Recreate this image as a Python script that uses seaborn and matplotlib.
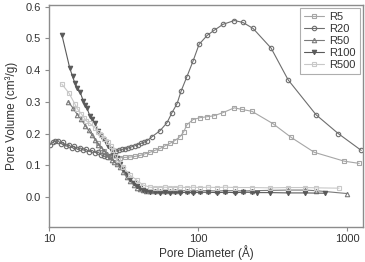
import numpy as np
import pandas as pd
import matplotlib
matplotlib.use("Agg")
import matplotlib.pyplot as plt
import seaborn as sns

# pore diameter (A) and pore volume (cm3/g)
r5_d = [21.5, 23.5, 25.7, 27.7, 30.0, 32.4, 35.0, 37.8, 40.8, 44.0, 47.6, 51.4, 55.6,
        60.0, 64.8, 70.0, 75.6, 80.0, 84.3, 92.5, 103, 115, 128, 147, 175, 197, 230,
        318, 421, 601, 955, 1205]
r5_v = [0.170, 0.145, 0.125, 0.124, 0.124, 0.125, 0.126, 0.128, 0.131, 0.136, 0.141,
        0.147, 0.153, 0.161, 0.169, 0.178, 0.190, 0.205, 0.228, 0.244, 0.250, 0.253,
        0.256, 0.266, 0.281, 0.276, 0.270, 0.231, 0.188, 0.141, 0.113, 0.106]

r20_d = [10.2, 10.6, 11.0, 11.5, 12.0, 12.5, 13.0, 13.6, 14.2, 14.8, 15.5, 16.2, 17.0,
         17.8, 18.6, 19.5, 20.4, 21.4, 22.4, 23.4, 24.5, 25.7, 26.9, 28.2, 29.5, 30.9,
         32.4, 34.0, 35.7, 37.5, 39.4, 41.4, 43.5, 45.7, 49.1, 55.6, 61.9, 66.9, 72.3,
         77.0, 84.0, 92.5, 101.6, 115, 128, 147, 175, 200, 234, 309, 402, 619, 871, 1242]
r20_v = [0.165, 0.172, 0.176, 0.178, 0.168, 0.172, 0.160, 0.165, 0.156, 0.160, 0.150,
         0.155, 0.148, 0.150, 0.143, 0.147, 0.140, 0.142, 0.133, 0.129, 0.126, 0.130,
         0.138, 0.145, 0.148, 0.150, 0.152, 0.155, 0.158, 0.161, 0.165, 0.169, 0.173,
         0.178, 0.190, 0.209, 0.234, 0.266, 0.294, 0.334, 0.378, 0.428, 0.481, 0.509,
         0.525, 0.544, 0.556, 0.550, 0.531, 0.469, 0.369, 0.259, 0.200, 0.147]

r50_d = [13.5, 14.5, 15.5, 16.5, 17.5, 18.5, 19.5, 20.5, 21.5, 22.5, 23.5, 24.5, 25.5,
         26.5, 27.5, 28.5, 30.0, 31.4, 33.2, 35.0, 37.0, 38.9, 40.8, 42.7, 45.0, 47.6,
         51.7, 55.6, 60.0, 64.8, 70.0, 76.0, 84.0, 92.5, 103, 117, 134, 152, 177, 200,
         230, 306, 402, 524, 620, 1000]
r50_v = [0.300, 0.280, 0.260, 0.245, 0.225, 0.210, 0.195, 0.180, 0.165, 0.155, 0.145,
         0.135, 0.125, 0.118, 0.110, 0.104, 0.094, 0.080, 0.062, 0.050, 0.038, 0.030,
         0.025, 0.022, 0.020, 0.020, 0.019, 0.020, 0.019, 0.020, 0.019, 0.020, 0.020,
         0.019, 0.020, 0.020, 0.019, 0.020, 0.020, 0.019, 0.020, 0.021, 0.022, 0.022,
         0.020, 0.011]

r100_d = [12.2, 13.8, 14.4, 14.9, 15.5, 16.2, 17.0, 17.5, 18.0, 18.8, 19.5, 20.3, 21.3,
          22.1, 23.0, 24.0, 24.9, 25.9, 26.9, 27.8, 28.6, 30.0, 31.4, 33.2, 35.0, 37.0,
          38.9, 40.8, 42.7, 45.0, 47.6, 51.7, 55.6, 60.0, 64.8, 70.0, 76.0, 84.0, 92.5,
          103, 117, 134, 152, 177, 200, 230, 250, 306, 402, 524, 711]
r100_v = [0.512, 0.406, 0.380, 0.360, 0.345, 0.330, 0.303, 0.290, 0.280, 0.256, 0.245,
          0.234, 0.209, 0.196, 0.184, 0.172, 0.162, 0.150, 0.140, 0.130, 0.122, 0.105,
          0.088, 0.072, 0.058, 0.045, 0.036, 0.028, 0.022, 0.018, 0.016, 0.015, 0.014,
          0.015, 0.014, 0.015, 0.014, 0.015, 0.014, 0.015, 0.015, 0.014, 0.015, 0.014,
          0.015, 0.015, 0.014, 0.014, 0.013, 0.013, 0.012]

r500_d = [12.2, 13.6, 14.9, 15.5, 16.5, 17.2, 17.8, 18.8, 20.3, 21.3, 22.5, 23.5, 24.9,
          25.9, 26.9, 27.8, 28.9, 31.4, 35.0, 38.9, 42.7, 47.6, 51.7, 55.6, 60.0, 64.8,
          70.0, 76.0, 84.0, 92.5, 103, 117, 134, 152, 177, 230, 306, 402, 524, 620, 883]
r500_v = [0.356, 0.328, 0.294, 0.278, 0.262, 0.250, 0.240, 0.232, 0.219, 0.205, 0.194,
          0.183, 0.172, 0.160, 0.147, 0.130, 0.116, 0.094, 0.069, 0.053, 0.038, 0.031,
          0.030, 0.030, 0.031, 0.030, 0.030, 0.031, 0.030, 0.031, 0.030, 0.031, 0.030,
          0.031, 0.030, 0.030, 0.029, 0.030, 0.030, 0.029, 0.028]

series = [
    ("R5", r5_d, r5_v, "#a6a6a6", "s", "none"),
    ("R20", r20_d, r20_v, "#6e6e6e", "o", "none"),
    ("R50", r50_d, r50_v, "#7a7a7a", "^", "none"),
    ("R100", r100_d, r100_v, "#5a5a5a", "v", "#5a5a5a"),
    ("R500", r500_d, r500_v, "#c8c8c8", "s", "none"),
]

sns.set_style("ticks")
plt.rcParams["font.family"] = ["Liberation Sans", "DejaVu Sans"]

fig = plt.figure(figsize=(3.65, 2.62), dpi=100)
ax = fig.add_axes([0.134, 0.134, 0.861, 0.847])

for name, d, v, col, mk, fc in series:
    df = pd.DataFrame({"d": d, "v": v})
    sns.lineplot(data=df, x="d", y="v", ax=ax, color=col, marker=mk,
                 markersize=3.2, markerfacecolor=fc, markeredgecolor=col,
                 markeredgewidth=0.8, linewidth=0.8, label=name)

ax.set_xscale("log")
ax.set_xlim(10, 1280)
ax.set_ylim(-0.094, 0.605)
ax.set_xticks([10, 100, 1000])
ax.set_xticklabels(["10", "100", "1000"])
ax.xaxis.set_minor_locator(matplotlib.ticker.NullLocator())
ax.set_yticks(np.arange(0, 0.61, 0.1))
ax.set_yticklabels([f"{t:.1f}" for t in np.arange(0, 0.61, 0.1)])

for s in ax.spines.values():
    s.set_color("#8c8c8c")
    s.set_linewidth(1.0)
ax.tick_params(colors="#8c8c8c", labelcolor="#333333", labelsize=8, length=3,
               width=0.8, pad=3)
ax.tick_params(axis="x", pad=2)

ax.set_xlabel("Pore Diameter (Å)", fontsize=8.5, color="#333333", labelpad=1)
ax.set_ylabel("Pore Volume (cm³/g)", fontsize=8.5, color="#333333", labelpad=5)

leg = ax.legend(loc="upper right", fontsize=8, frameon=True, fancybox=False,
                borderaxespad=0.3, handlelength=1.8, labelspacing=0.18,
                borderpad=0.35, handletextpad=0.5)
leg.get_frame().set_edgecolor("#9a9a9a")
leg.get_frame().set_linewidth(0.8)
for t in leg.get_texts():
    t.set_color("#333333")

fig.savefig("out.png", dpi=100)
